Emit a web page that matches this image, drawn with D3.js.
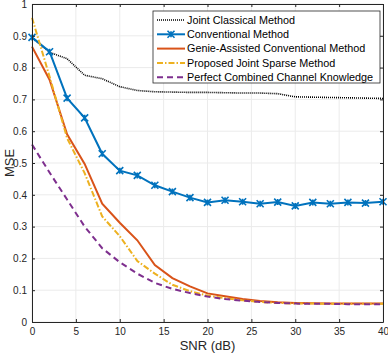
<!DOCTYPE html>
<html>
<head>
<meta charset="utf-8">
<script src="https://cdn.jsdelivr.net/npm/d3@7"></script>
<style>
  body { margin: 0; background: #fff; }
  text { font-family: "Liberation Sans", Arial, sans-serif; }
</style>
</head>
<body>
<div id="chart"></div>
<script>
// SNR points (dB)
var snr = d3.range(0, 41, 2);

// MSE values
var jointClassical = [0.895, 0.848, 0.828, 0.776, 0.765, 0.740, 0.728, 0.724, 0.723, 0.722, 0.722,
                      0.721, 0.720, 0.720, 0.718, 0.708, 0.707, 0.706, 0.705, 0.704, 0.703];
var conventional   = [0.895, 0.850, 0.704, 0.642, 0.529, 0.476, 0.461, 0.430, 0.410, 0.391, 0.376,
                      0.383, 0.378, 0.372, 0.377, 0.365, 0.376, 0.372, 0.376, 0.374, 0.378];
var genie          = [0.866, 0.762, 0.590, 0.497, 0.372, 0.312, 0.257, 0.179, 0.138, 0.112, 0.090,
                      0.081, 0.072, 0.066, 0.062, 0.060, 0.059, 0.058, 0.058, 0.058, 0.058];
var proposed       = [0.957, 0.772, 0.578, 0.468, 0.332, 0.270, 0.192, 0.152, 0.117, 0.097, 0.083,
                      0.075, 0.068, 0.063, 0.060, 0.058, 0.058, 0.057, 0.057, 0.057, 0.057];
var perfect        = [0.558, 0.470, 0.385, 0.300, 0.232, 0.188, 0.152, 0.123, 0.104, 0.091, 0.080,
                      0.072, 0.067, 0.063, 0.060, 0.058, 0.057, 0.057, 0.056, 0.056, 0.056];

var xTicks = [0, 5, 10, 15, 20, 25, 30, 35, 40];
var yTicks = [0, 0.1, 0.2, 0.3, 0.4, 0.5, 0.6, 0.7, 0.8, 0.9, 1];

var series = [
  { name: "Joint Classical Method", values: jointClassical, color: "#000000", width: 1.6, dash: "1,1", marker: false },
  { name: "Conventional Method", values: conventional, color: "#0072BD", width: 2, dash: null, marker: true },
  { name: "Genie-Assisted Conventional Method", values: genie, color: "#D95319", width: 2, dash: null, marker: false },
  { name: "Proposed Joint Sparse Method", values: proposed, color: "#EDB120", width: 2, dash: "6,2,1.5,2", marker: false },
  { name: "Perfect Combined Channel Knowledge", values: perfect, color: "#7E2F8E", width: 2, dash: "6,4", marker: false }
];

//plot box in page pixels
var margin = { top: 4, left: 32, right: 5, bottom: 33 };
var W = 388, H = 355;
var width = W - margin.left - margin.right;
var height = H - margin.top - margin.bottom;

var svg = d3.select("#chart").append("svg")
    .attr("width", W)
    .attr("height", H);

var g = svg.append("g")
    .attr("transform", "translate(" + margin.left + "," + margin.top + ")");

var x = d3.scaleLinear().domain([0, 40]).range([0, width]);
var y = d3.scaleLinear().domain([0, 1]).range([height, 0]);

//grid
g.append("g").selectAll("line").data(xTicks).enter().append("line")
    .attr("x1", d => x(d)).attr("x2", d => x(d))
    .attr("y1", 0).attr("y2", height)
    .attr("stroke", "#ebebeb").attr("stroke-width", 1);
g.append("g").selectAll("line").data(yTicks).enter().append("line")
    .attr("y1", d => y(d)).attr("y2", d => y(d))
    .attr("x1", 0).attr("x2", width)
    .attr("stroke", "#ebebeb").attr("stroke-width", 1);

//lines
var line = d3.line()
    .x((d, i) => x(snr[i]))
    .y(d => y(d));

var cross = "M-3.5,-3.5L3.5,3.5M-3.5,3.5L3.5,-3.5M0,-3L0,3";

series.forEach(function (s) {
  g.append("path")
      .datum(s.values)
      .attr("fill", "none")
      .attr("stroke", s.color)
      .attr("stroke-width", s.width)
      .attr("stroke-dasharray", s.dash)
      .attr("d", line);
  if (s.marker) {
    g.append("g").selectAll("path")
        .data(s.values).enter().append("path")
        .attr("transform", (d, i) => "translate(" + x(snr[i]) + "," + y(d) + ")")
        .attr("d", cross)
        .attr("stroke", s.color)
        .attr("stroke-width", 1.6);
  }
});

//axes (ticks inside, box on)
var axColor = "#262626";
var xAxis = g.append("g")
    .attr("transform", "translate(0," + height + ")")
    .call(d3.axisBottom(x).tickValues(xTicks).tickSizeInner(-3).tickSizeOuter(0).tickPadding(6));
var yAxis = g.append("g")
    .call(d3.axisLeft(y).tickValues(yTicks).tickSizeInner(-3).tickSizeOuter(0).tickPadding(5)
          .tickFormat(d => d === 0 || d === 1 ? d3.format("d")(d) : d3.format(".1f")(d)));
var xTop = g.append("g")
    .call(d3.axisTop(x).tickValues(xTicks).tickSizeInner(-3).tickSizeOuter(0).tickFormat(""));
var yRight = g.append("g")
    .attr("transform", "translate(" + width + ",0)")
    .call(d3.axisRight(y).tickValues(yTicks).tickSizeInner(-3).tickSizeOuter(0).tickFormat(""));

[xAxis, yAxis, xTop, yRight].forEach(function (a) {
  a.selectAll("path").attr("stroke", axColor).attr("stroke-width", 1);
  a.selectAll("line").attr("stroke", axColor);
  a.selectAll("text").attr("fill", axColor).style("font-size", "10px")
      .style("font-family", "'Liberation Sans', Arial, sans-serif");
});

//axis titles
svg.append("text")
    .attr("x", margin.left + width / 2)
    .attr("y", H - 5)
    .attr("text-anchor", "middle")
    .attr("fill", axColor)
    .style("font-size", "13px")
    .text("SNR (dB)");
svg.append("text")
    .attr("transform", "translate(14," + (margin.top + height / 2) + ") rotate(-90)")
    .attr("text-anchor", "middle")
    .attr("fill", axColor)
    .style("font-size", "13px")
    .text("MSE");

//legend
var lg = svg.append("g").attr("transform", "translate(153,11)");
lg.append("rect")
    .attr("width", 227).attr("height", 72)
    .attr("fill", "#fff").attr("stroke", axColor).attr("stroke-width", 0.8);
series.forEach(function (s, i) {
  var ly = 9 + i * 14.3;
  lg.append("line")
      .attr("x1", 4).attr("x2", 32).attr("y1", ly).attr("y2", ly)
      .attr("stroke", s.color).attr("stroke-width", s.width)
      .attr("stroke-dasharray", s.dash);
  if (s.marker) {
    lg.append("path")
        .attr("transform", "translate(18," + ly + ")")
        .attr("d", cross)
        .attr("stroke", s.color).attr("stroke-width", 1.6);
  }
  lg.append("text")
      .attr("x", 34).attr("y", ly + 3.8)
      .attr("fill", "#000")
      .style("font-size", "10.8px")
      .text(s.name);
});
</script>
</body>
</html>
